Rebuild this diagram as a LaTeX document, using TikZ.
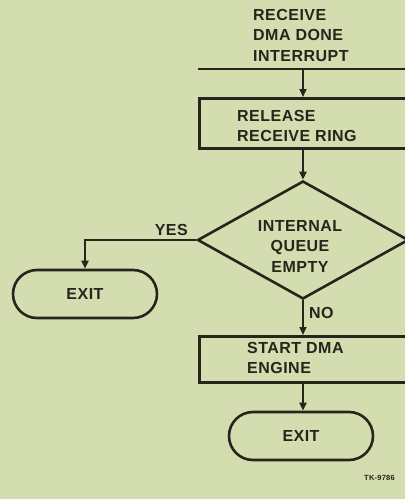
\documentclass[tikz,border=0pt]{standalone}
\usepackage{fontspec}
\setmainfont{Liberation Sans}[LetterSpace=3]
\usetikzlibrary{shapes.geometric,arrows.meta}
\definecolor{bg}{RGB}{212,221,176}
\definecolor{ink}{RGB}{36,38,28}
\begin{document}
\begin{tikzpicture}[x=1pt,y=-1pt,
  every node/.style={text=ink},
  txt/.style={font=\bfseries\fontsize{16}{20.5}\selectfont, inner sep=0pt, align=left},
  line/.style={draw=ink, line width=2.6pt},
  arr/.style={line, -{Triangle[length=8pt,width=7pt]}},
  procbox/.style={draw=ink, line width=2.6pt, rectangle, inner sep=0pt, anchor=north west},
  decbox/.style={draw=ink, line width=2.6pt, diamond, inner sep=0pt, minimum width=211pt, minimum height=118pt},
  termbox/.style={draw=ink, line width=2.6pt, rectangle, rounded corners=24pt, minimum width=144pt, minimum height=48pt, inner sep=0pt}]
\fill[bg] (0,0) rectangle (405,499);
\useasboundingbox (0,0) rectangle (405,499);
\clip (0,0) rectangle (405,499);
% entry
\node[txt, anchor=north west] (intr) at (253,9) {RECEIVE\\DMA DONE\\INTERRUPT};
\coordinate (tl) at (198,69);
\coordinate (tr) at (412,69);
\coordinate (t0) at (303,69);
\draw[line] (tl) -- (tr);
% box 1
\node[procbox, minimum width=222pt, minimum height=50pt] (b1) at (198,97) {};
\node[txt, anchor=west] (b1t) at (237,126) {RELEASE\\RECEIVE RING};
% diamond
\node[decbox] (d) at (303,240) {};
\node[txt, align=center] (dt) at (300,246) {INTERNAL\\QUEUE\\EMPTY};
% exit 1
\node[termbox] (e1) at (85,294) {};
\node[txt] (e1t) at (85,294) {EXIT};
% box 2
\node[procbox, minimum width=222pt, minimum height=46pt] (b2) at (198,335) {};
\node[txt, anchor=west] (b2t) at (247,358) {START DMA\\ENGINE};
% exit 2
\node[termbox] (e2) at (301,436) {};
\node[txt] (e2t) at (301,436) {EXIT};
% labels
\node[txt, anchor=south east] (yes) at (188,236) {YES};
\node[txt, anchor=west] (no) at (309,313) {NO};
\node[font=\bfseries\fontsize{7.5}{9}\selectfont, inner sep=0pt, anchor=west] (tk) at (364,478) {TK-9786};
% connectors
\draw[arr] (t0) -- (t0 |- b1.north);
\draw[arr] (t0 |- b1.south) -- (d.north);
\draw[arr] (d.west) -| (e1.north);
\draw[arr] (d.south) -- (d.south |- b2.north);
\draw[arr] (d.south |- b2.south) -- (e2.north -| d.south);
\end{tikzpicture}
\end{document}
